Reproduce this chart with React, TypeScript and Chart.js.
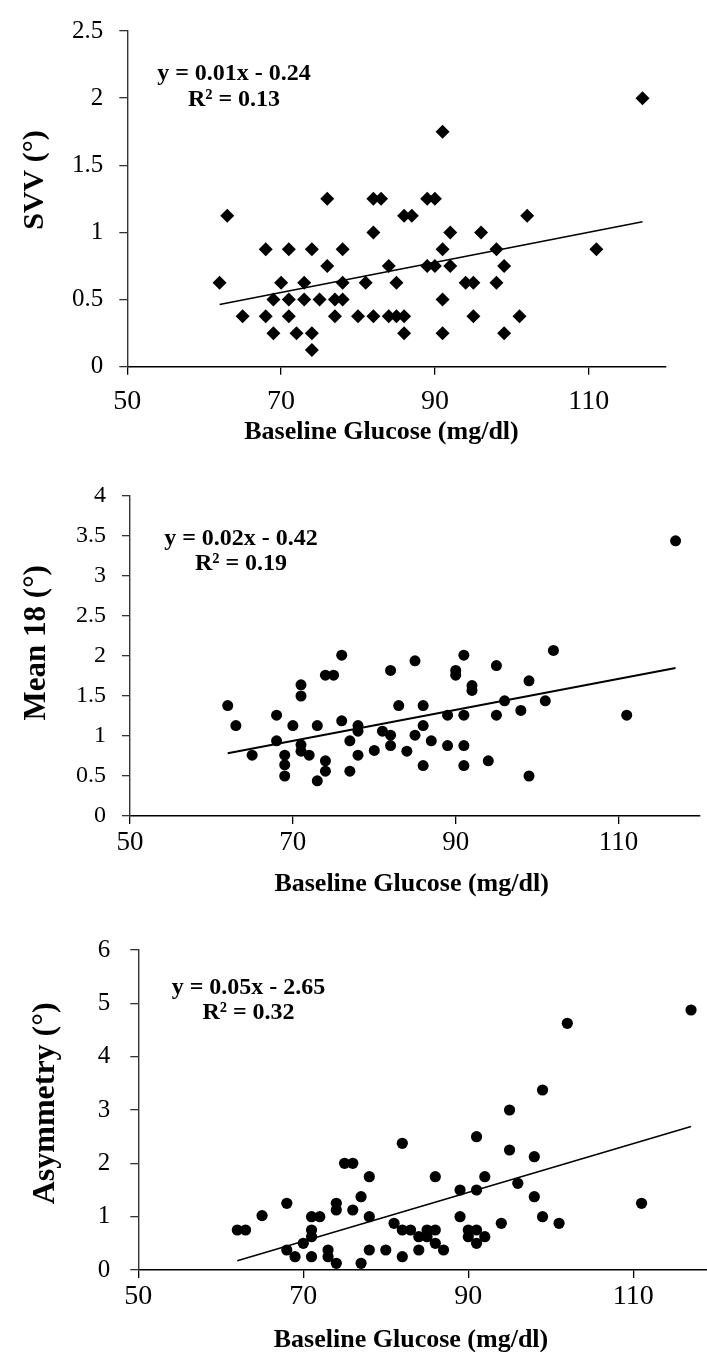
import React, { useEffect, useRef } from "react";
import { Chart, registerables } from "chart.js";

Chart.register(...registerables);

const FONT = "'Liberation Serif', 'Times New Roman', Times, serif";

// ---------- shared ----------
const xTickValues = [50, 70, 90, 110];
const xTitle = "Baseline Glucose (mg/dl)";

// ---------- panel 1: SVV ----------
const svvGlucose = [62, 63, 65, 68, 68, 69, 69, 70, 71, 71, 71, 72, 73, 73, 74, 74, 74, 75, 76, 76, 77, 77, 78, 78, 78, 80, 81, 82, 82, 82, 83, 84, 84, 85, 85, 86, 86, 86, 87, 89, 89, 90, 90, 91, 91, 91, 91, 92, 92, 94, 95, 95, 96, 98, 98, 99, 99, 101, 102, 111, 117];
const svvValues = [0.625, 1.125, 0.375, 0.875, 0.375, 0.5, 0.25, 0.625, 0.875, 0.5, 0.375, 0.25, 0.625, 0.5, 0.875, 0.25, 0.125, 0.5, 1.25, 0.75, 0.5, 0.375, 0.875, 0.625, 0.5, 0.375, 0.625, 1.25, 1.0, 0.375, 1.25, 0.75, 0.375, 0.625, 0.375, 1.125, 0.375, 0.25, 1.125, 1.25, 0.75, 1.25, 0.75, 1.75, 0.875, 0.5, 0.25, 1.0, 0.75, 0.625, 0.625, 0.375, 1.0, 0.875, 0.625, 0.75, 0.25, 0.375, 1.125, 0.875, 2.0];
const svvTrendX = [62, 117];
const svvTrendY = [0.463, 1.08];
const svvYTicks = [0, 0.5, 1, 1.5, 2, 2.5];
const svvEquation = ["y = 0.01x - 0.24", "R\u00B2 = 0.13"];
const svvYTitle = "SVV (\u00B0)";

// ---------- panel 2: Mean 18 ----------
const meanGlucose = [62, 63, 65, 68, 68, 69, 69, 69, 70, 71, 71, 71, 71, 72, 73, 73, 74, 74, 74, 75, 76, 76, 77, 77, 78, 78, 78, 80, 81, 82, 82, 82, 83, 84, 85, 85, 86, 86, 86, 87, 89, 89, 90, 90, 91, 91, 91, 91, 92, 92, 94, 95, 95, 96, 98, 99, 99, 101, 102, 111, 117];
const meanValues = [1.38, 1.13, 0.76, 1.26, 0.94, 0.76, 0.64, 0.5, 1.13, 1.64, 1.5, 0.89, 0.81, 0.76, 1.13, 0.44, 1.76, 0.69, 0.56, 1.76, 2.01, 1.19, 0.94, 0.56, 1.13, 1.06, 0.76, 0.82, 1.06, 1.82, 1.01, 0.88, 1.38, 0.81, 1.94, 1.01, 1.38, 1.13, 0.63, 0.94, 1.26, 0.88, 1.82, 1.76, 2.01, 1.26, 0.88, 0.63, 1.63, 1.57, 0.69, 1.88, 1.26, 1.44, 1.32, 1.69, 0.5, 1.44, 2.07, 1.26, 3.44];
const meanTrendX = [62, 117];
const meanTrendY = [0.785, 1.85];
const meanYTicks = [0, 0.5, 1, 1.5, 2, 2.5, 3, 3.5, 4];
const meanEquation = ["y = 0.02x - 0.42", "R\u00B2 = 0.19"];
const meanYTitle = "Mean 18 (\u00B0)";

// ---------- panel 3: Asymmetry ----------
const asymGlucose = [62, 63, 65, 68, 68, 69, 70, 71, 71, 71, 71, 72, 73, 73, 74, 74, 74, 75, 76, 76, 77, 77, 78, 78, 78, 80, 81, 82, 82, 82, 83, 84, 84, 85, 85, 86, 86, 86, 87, 89, 89, 90, 90, 91, 91, 91, 91, 92, 92, 94, 95, 95, 96, 98, 98, 99, 99, 101, 102, 111, 117];
const asymValues = [0.75, 0.75, 1.02, 1.25, 0.375, 0.25, 0.5, 1.0, 0.75, 0.625, 0.25, 1.0, 0.375, 0.25, 1.25, 1.125, 0.125, 2.0, 2.0, 1.125, 1.375, 0.125, 1.75, 1.0, 0.375, 0.375, 0.875, 2.375, 0.75, 0.25, 0.75, 0.625, 0.375, 0.75, 0.625, 1.75, 0.75, 0.5, 0.375, 1.5, 1.0, 0.75, 0.625, 2.5, 1.5, 0.75, 0.5, 1.75, 0.625, 0.875, 3.0, 2.25, 1.625, 2.125, 1.375, 3.375, 1.0, 0.875, 4.625, 1.25, 4.875];
const asymTrendX = [62, 117];
const asymTrendY = [0.175, 2.69];
const asymYTicks = [0, 1, 2, 3, 4, 5, 6];
const asymEquation = ["y = 0.05x - 2.65", "R\u00B2 = 0.32"];
const asymYTitle = "Asymmetry (\u00B0)";

type PanelCfg = {
  xs: number[]; ys: number[]; trendX: number[]; trendY: number[];
  yTicks: number[]; eq: string[]; yTitle: string;
  pointStyle: string; radius: number; trendWidth: number;
  top: number; width: number; height: number;
  area: { left: number; right: number; top: number; bottom: number };
  yTickSize: number; xTickSize: number; yTickPad: number; xTickPad: number;
  eqX: number; eqY: number[]; eqSize: number;
  yTitleX: number; yTitleY: number; yTitleSize: number;
  xTitleX: number; xTitleY: number; xTitleSize: number;
};

const panels: PanelCfg[] = [
  {
    xs: svvGlucose, ys: svvValues, trendX: svvTrendX, trendY: svvTrendY,
    yTicks: svvYTicks, eq: svvEquation, yTitle: svvYTitle,
    pointStyle: "rectRot", radius: 7, trendWidth: 1.5,
    top: 0, width: 707, height: 450,
    area: { left: 127.3, right: 665.6, top: 16.7, bottom: 366.7 },
    yTickSize: 25, xTickSize: 28, yTickPad: 16, xTickPad: 10,
    eqX: 234, eqY: [80, 106], eqSize: 24,
    yTitleX: 42.7, yTitleY: 180, yTitleSize: 30,
    xTitleX: 381.5, xTitleY: 439, xTitleSize: 26,
  },
  {
    xs: meanGlucose, ys: meanValues, trendX: meanTrendX, trendY: meanTrendY,
    yTicks: meanYTicks, eq: meanEquation, yTitle: meanYTitle,
    pointStyle: "circle", radius: 5.5, trendWidth: 2,
    top: 450, width: 707, height: 460,
    area: { left: 130, right: 700, top: 46, bottom: 366 },
    yTickSize: 24, xTickSize: 27, yTickPad: 16, xTickPad: 3,
    eqX: 241, eqY: [95, 120], eqSize: 24,
    yTitleX: 45, yTitleY: 192.8, yTitleSize: 31,
    xTitleX: 411.6, xTitleY: 441, xTitleSize: 26,
  },
  {
    xs: asymGlucose, ys: asymValues, trendX: asymTrendX, trendY: asymTrendY,
    yTicks: asymYTicks, eq: asymEquation, yTitle: asymYTitle,
    pointStyle: "circle", radius: 5.6, trendWidth: 1.5,
    top: 910, width: 760, height: 442,
    area: { left: 138.3, right: 715.8, top: 40, bottom: 360 },
    yTickSize: 25, xTickSize: 28, yTickPad: 20, xTickPad: 2,
    eqX: 248.5, eqY: [84, 109], eqSize: 24,
    yTitleX: 54, yTitleY: 193.3, yTitleSize: 32,
    xTitleX: 411, xTitleY: 437, xTitleSize: 26,
  },
];

const textPlugin = {
  id: "panelText",
  afterDraw(chart: any, _args: any, opts: any) {
    const ctx = chart.ctx as CanvasRenderingContext2D;
    ctx.save();
    ctx.fillStyle = "#000";
    ctx.textBaseline = "alphabetic";
    ctx.textAlign = "center";
    ctx.font = `bold ${opts.eqSize}px ${FONT}`;
    opts.eq.forEach((t: string, i: number) => ctx.fillText(t, opts.eqX, opts.eqY[i]));
    ctx.font = `bold ${opts.xTitleSize}px ${FONT}`;
    ctx.fillText(opts.xTitle, opts.xTitleX, opts.xTitleY);
    ctx.translate(opts.yTitleX, opts.yTitleY);
    ctx.rotate(-Math.PI / 2);
    ctx.font = `bold ${opts.yTitleSize}px ${FONT}`;
    ctx.fillText(opts.yTitle, 0, 0);
    ctx.restore();
  },
};

function Panel({ cfg }: { cfg: PanelCfg }) {
  const ref = useRef<HTMLCanvasElement>(null);
  useEffect(() => {
    const c = cfg;
    const chart = new Chart(ref.current as HTMLCanvasElement, {
      type: "scatter",
      data: {
        datasets: [
          {
            data: c.xs.map((x, i) => ({ x, y: c.ys[i] })),
            pointStyle: c.pointStyle as any,
            pointRadius: c.radius,
            backgroundColor: "#000",
            borderColor: "#000",
            borderWidth: 0,
            showLine: false,
          },
          {
            data: c.trendX.map((x, i) => ({ x, y: c.trendY[i] })),
            showLine: true,
            pointRadius: 0,
            borderColor: "#000",
            borderWidth: c.trendWidth,
            fill: false,
          } as any,
        ],
      },
      options: {
        responsive: false,
        animation: false,
        devicePixelRatio: 1,
        layout: { padding: { top: c.area.top, right: c.width - c.area.right, bottom: 0, left: 0 } },
        plugins: {
          legend: { display: false },
          tooltip: { enabled: false },
          panelText: {
            eq: c.eq, eqX: c.eqX, eqY: c.eqY, eqSize: c.eqSize,
            xTitle, xTitleX: c.xTitleX, xTitleY: c.xTitleY, xTitleSize: c.xTitleSize,
            yTitle: c.yTitle, yTitleX: c.yTitleX, yTitleY: c.yTitleY, yTitleSize: c.yTitleSize,
          },
        } as any,
        scales: {
          x: {
            type: "linear",
            min: 50,
            max: 120,
            afterBuildTicks: (s: any) => { s.ticks = xTickValues.map((v) => ({ value: v })); },
            afterFit: (s: any) => { s.height = c.height - c.area.bottom; },
            grid: { display: true, drawOnChartArea: false, drawTicks: true, tickLength: 8, color: "#000", lineWidth: 1.3 },
            border: { display: true, color: "#000", width: 1.6 },
            ticks: {
              font: { family: FONT, size: c.xTickSize }, color: "#000", padding: c.xTickPad,
              maxRotation: 0, autoSkip: false, callback: (v: any) => String(v),
            },
          },
          y: {
            type: "linear",
            min: c.yTicks[0],
            max: c.yTicks[c.yTicks.length - 1],
            afterBuildTicks: (s: any) => { s.ticks = c.yTicks.map((v) => ({ value: v })); },
            afterFit: (s: any) => { s.width = c.area.left; },
            grid: { display: true, drawOnChartArea: false, drawTicks: true, tickLength: 8, color: "#333", lineWidth: 1.3 },
            border: { display: true, color: "#333", width: 1.4 },
            ticks: {
              font: { family: FONT, size: c.yTickSize }, color: "#000", padding: c.yTickPad,
              autoSkip: false, callback: (v: any) => String(v),
            },
          },
        },
      },
      plugins: [textPlugin as any],
    });
    return () => chart.destroy();
  }, [cfg]);
  return (
    <canvas
      ref={ref}
      width={cfg.width}
      height={cfg.height}
      style={{ position: "absolute", left: 0, top: cfg.top, width: cfg.width, height: cfg.height }}
    />
  );
}

export default function App() {
  return (
    <div style={{ position: "absolute", left: 0, top: 0, width: 707, height: 1352, overflow: "hidden", background: "#fff" }}>
      {panels.map((p, i) => (
        <Panel key={i} cfg={p} />
      ))}
    </div>
  );
}
